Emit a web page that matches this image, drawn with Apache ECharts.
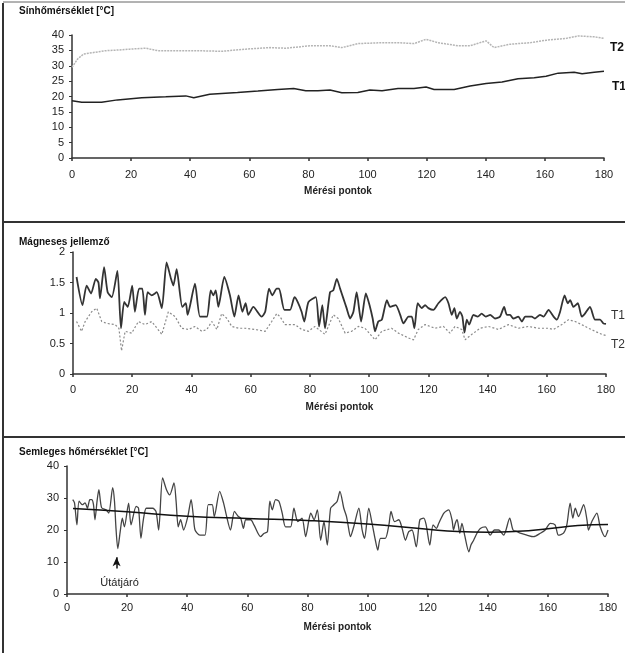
<!DOCTYPE html>
<html>
<head>
<meta charset="utf-8">
<script src="https://cdn.jsdelivr.net/npm/echarts@6/dist/echarts.min.js"></script>
<style>
  html, body { margin: 0; padding: 0; background: #fff; }
  #chart { width: 625px; height: 653px; }
</style>
</head>
<body>
<div id="chart"></div>
<script>
// --- data ---
const xTicks = [0, 20, 40, 60, 80, 100, 120, 140, 160, 180];

// Sínhőmérséklet
const railT2x = [0, 1.9, 3.9, 7.3, 11.4, 15.4, 19.5, 25, 29, 35.8, 42.5, 50.7, 58.8, 67, 72.4, 80.5, 87.3, 91.3, 96.7, 104.9, 110.3, 115.7, 119.8, 123.8, 130.6, 134.7, 140.1, 142.8, 148.2, 155, 160.4, 167.2, 171.3, 176.7, 180];
const railT2 = [29.5, 32.2, 33.8, 34.3, 34.9, 35.1, 35.4, 35.7, 34.9, 34.9, 34.9, 34.7, 35.4, 35.9, 35.7, 36.5, 36.5, 35.9, 37.2, 37.5, 37.5, 37.2, 38.6, 37.5, 36.5, 36.5, 38.1, 35.9, 37, 37.5, 38.3, 38.9, 39.7, 39.4, 38.9];
const railT1x = [0, 3.3, 10, 15.4, 23.6, 31.7, 38.5, 41.2, 46.6, 56, 62.9, 69.6, 75, 79.1, 83.2, 87.3, 91.3, 96.7, 100.8, 104.9, 110.3, 115.7, 119.8, 122.5, 129.3, 134.7, 140.1, 145.5, 150.9, 156.4, 160.4, 164.5, 169.9, 172.6, 176.7, 180];
const railT1 = [18.6, 18.1, 18.1, 18.9, 19.6, 19.9, 20.2, 19.6, 20.7, 21.3, 21.8, 22.3, 22.6, 21.9, 21.9, 22.1, 21.2, 21.3, 22.1, 21.9, 22.6, 22.6, 23.1, 22.3, 22.3, 23.4, 24.2, 24.7, 25.8, 26.1, 26.6, 27.6, 27.9, 27.4, 27.9, 28.2];

// Mágneses jellemző
const magT1x = [1.2, 3.2, 4.6, 6.1, 7.7, 8.6, 9.1, 10.5, 11.7, 13.1, 15, 16.2, 17.3, 18.5, 20, 20.9, 22.3, 23.4, 24.3, 25.2, 26.6, 28.3, 30, 31.6, 33.1, 33.9, 35, 36.9, 38.1, 38.7, 41.2, 42.9, 45.2, 46.5, 47.4, 48.2, 49.1, 51.1, 53, 54.5, 55.9, 57.2, 58.3, 59.2, 60.9, 63.7, 64.9, 66.2, 67.3, 68.8, 69.6, 71.4, 73.3, 74.8, 75.9, 77.2, 78.1, 79.5, 82, 83.1, 84.2, 85.1, 86.8, 87.9, 89.1, 90.2, 91.3, 92.4, 93.6, 94.7, 95.8, 97.3, 98.9, 100.3, 101.2, 102, 103.1, 104.3, 106, 107.1, 109, 110.5, 111.6, 113.3, 114.4, 115.3, 116.4, 117.8, 118.9, 120, 121.7, 123.4, 125.7, 126.8, 127.9, 128.8, 129.6, 130.7, 131.5, 132.2, 133, 133.8, 135.2, 136.7, 138, 139.4, 140.9, 142.5, 144.2, 145.6, 146.5, 147.6, 148.7, 150.4, 151.6, 152.7, 154.9, 156, 157.7, 158.9, 160.6, 162.3, 163.4, 164.5, 166, 167.1, 167.9, 169, 170.5, 171.8, 172.9, 174.6, 176.3, 178, 179.1, 180];
const magT1 = [1.59, 1.13, 1.45, 1.32, 1.56, 1.5, 1.24, 1.75, 1.34, 1.26, 1.69, 0.75, 1.18, 1.1, 1.45, 1.02, 1.4, 1.4, 0.97, 1.34, 1.29, 1.34, 1.08, 1.83, 1.56, 1.45, 1.72, 1.1, 1.16, 0.97, 1.48, 0.94, 0.94, 1.37, 1.29, 1.37, 1.1, 1.59, 1.29, 0.94, 1.29, 1.02, 1.16, 0.97, 1.1, 0.94, 1.02, 1.4, 1.29, 1.4, 1.4, 1.05, 1.05, 1.26, 1.18, 1.02, 0.86, 1.18, 1.26, 0.78, 1.13, 0.75, 1.34, 1.37, 1.56, 1.4, 1.24, 1.08, 0.91, 1.02, 1.34, 0.86, 1.32, 1.1, 0.91, 0.7, 0.86, 0.89, 1.21, 1.1, 1.13, 0.97, 0.83, 0.94, 0.94, 0.75, 1.16, 1.08, 1.13, 1.08, 1.05, 1.16, 1.26, 1.16, 0.97, 1.08, 0.91, 1.02, 0.94, 0.68, 0.89, 0.81, 0.97, 0.94, 0.99, 0.94, 0.97, 0.91, 0.94, 1.1, 0.97, 0.97, 0.91, 0.94, 0.86, 0.94, 0.94, 0.91, 0.97, 0.94, 1.05, 0.94, 0.89, 1.02, 1.29, 1.16, 1.21, 1.1, 1.16, 0.94, 0.99, 1.1, 0.89, 0.89, 0.83, 0.82];
const magT2x = [1.2, 2.9, 4.1, 6.3, 8, 9.7, 11.4, 14.2, 15.5, 16.4, 17.6, 19.8, 22.1, 24.3, 26.6, 30, 32.2, 34.5, 36.7, 39, 41.2, 43.5, 45.2, 46.9, 48.6, 50.2, 52, 53.6, 55.9, 58.1, 61.5, 64.9, 67.1, 68.8, 69.9, 71.6, 75, 77.2, 79.5, 81.7, 85.1, 87.9, 89.6, 91.9, 94.1, 96.4, 98.6, 102, 104.3, 107.6, 109.9, 113.3, 115, 116.6, 118.9, 122.3, 125.1, 127.3, 129, 131.3, 132.4, 134.7, 137.5, 140.3, 143.7, 147, 150.4, 153.8, 157.2, 160.6, 162.3, 165.1, 167.3, 169.6, 171.8, 174.1, 176.3, 178.6, 180];
const magT2 = [0.86, 0.7, 0.86, 1.02, 1.08, 0.86, 0.83, 0.81, 0.75, 0.38, 0.7, 0.67, 0.86, 0.81, 0.86, 0.65, 1.02, 0.94, 0.75, 0.73, 0.78, 0.7, 0.73, 0.86, 0.73, 0.99, 0.91, 0.78, 0.75, 0.75, 0.73, 0.7, 0.86, 0.99, 0.94, 0.81, 0.81, 0.73, 0.7, 0.78, 0.65, 0.97, 0.91, 0.67, 0.7, 0.78, 0.75, 0.56, 0.7, 0.75, 0.67, 0.59, 0.56, 0.73, 0.81, 0.75, 0.78, 0.67, 0.78, 0.73, 0.56, 0.65, 0.75, 0.78, 0.73, 0.81, 0.75, 0.78, 0.75, 0.75, 0.73, 0.81, 0.89, 0.86, 0.81, 0.75, 0.7, 0.65, 0.63];

// Semleges hőmérséklet
const neutX = [1.9, 2.5, 3.3, 4, 5.1, 6, 6.8, 7.6, 8.2, 8.8, 9.3, 10, 10.6, 11.5, 13, 13.9, 15.2, 15.8, 16.3, 16.9, 17.7, 18.4, 19.1, 20.5, 21.3, 23, 23.8, 24.6, 25.4, 26.4, 28.5, 29.6, 30.5, 31.8, 33.1, 34.2, 35.6, 36.3, 37, 37.8, 38.8, 40.2, 41.3, 42, 42.6, 44.2, 45.9, 47, 48.3, 49, 50.8, 52.1, 53, 54.4, 55.7, 57, 57.8, 58.7, 59.5, 61.1, 62.2, 64.4, 65.5, 66.7, 67.5, 68.3, 69.4, 70.5, 71.6, 72.7, 74.4, 75.5, 76.8, 78.2, 79.4, 80.5, 81.1, 82.2, 83.3, 84.4, 85.5, 86.6, 87.7, 88.8, 89.9, 90.8, 92.1, 93, 93.5, 94.3, 95.4, 97.1, 98.2, 99, 100.4, 101.5, 102.6, 103.4, 104.3, 105.9, 107.1, 107.8, 109, 110.4, 111.5, 112.6, 113.7, 114.8, 116.2, 117.4, 118.7, 119.5, 120.7, 121.8, 122.9, 123.7, 125.4, 127, 128.1, 128.6, 129.2, 129.8, 130.7, 131.4, 132.3, 133.7, 134.4, 135.3, 136.4, 137.5, 139.2, 140.8, 142.2, 143.6, 145.3, 147.3, 148.4, 149.7, 150.8, 153, 155.2, 157.5, 159.1, 160.8, 162.4, 163.5, 165.2, 166.3, 167.4, 168.3, 169.1, 170.2, 171.9, 173, 173.5, 174.6, 176.3, 177.4, 179, 180];
const neutT = [29.5, 28.5, 21.6, 29, 27.9, 28.5, 26.8, 29.5, 29.5, 28, 23.2, 29, 32.6, 27, 26.3, 25.3, 33.2, 29, 20.5, 14.2, 19.5, 23.7, 21, 28.4, 21.6, 27.4, 26.8, 17.4, 23.2, 26.8, 26.8, 25.8, 20, 36.3, 32.6, 31, 34.7, 29, 21, 23.2, 20, 24.2, 29.5, 24.7, 20, 18.4, 18.4, 27.9, 27.9, 24.2, 32.1, 28.4, 24.7, 20, 25.8, 24.2, 23.7, 20.5, 23.2, 23.2, 21.6, 17.9, 18.9, 19.5, 29, 26.3, 29.5, 29, 25.3, 21, 21, 26.8, 22.6, 23.7, 17.9, 23.2, 25.3, 23.2, 26.3, 16.8, 22.6, 15.3, 26.8, 27.9, 29, 32.1, 26.8, 24.2, 21.6, 17.9, 21, 26.8, 20, 17.4, 26.8, 22.1, 16.8, 13.7, 17.4, 17.4, 21.6, 25.8, 22.6, 23.2, 20.5, 16.8, 19.5, 20, 14.7, 23.2, 23.7, 21.6, 15.3, 21.6, 20.5, 22.1, 25.3, 26.3, 23.2, 20, 22.1, 23.2, 19, 22.1, 18.4, 13.2, 15.3, 16.8, 19, 20.5, 21, 18.4, 20, 20, 18.4, 23.7, 20, 19.5, 19, 18.4, 17.9, 19, 20, 22.1, 21.6, 18.4, 19, 21.6, 28.4, 23.7, 26.8, 24.2, 27.9, 23.2, 20, 22.6, 25.3, 21, 17.9, 20];
const trendX = [2, 20, 40, 60, 80, 100, 120, 130, 140, 150, 160, 170, 180];
const trendT = [26.7, 25.7, 24.3, 23.6, 23, 21.9, 20.2, 19.5, 19.3, 19.6, 20.4, 21.4, 21.7];

const zip = (xs, ys) => xs.map((x, i) => [x, ys[i]]);

const FONT = '"Liberation Sans", Arial, sans-serif';
const chart = echarts.init(document.getElementById('chart'), null, {renderer: 'canvas'});

function xAxisCfg(gridIndex, labelMargin) {
  return {
    gridIndex, type: 'value', min: 0, max: 180, interval: 20,
    name: 'Mérési pontok', nameLocation: 'middle', nameGap: 28,
    nameTextStyle: {fontFamily: FONT, fontSize: 10, fontWeight: 'bold', color: '#222'},
    axisLine: {lineStyle: {color: '#333', width: 1.5}},
    axisTick: {length: 3, lineStyle: {color: '#333', width: 1.5}},
    axisLabel: {margin: labelMargin, fontFamily: FONT, fontSize: 11, color: '#222',
      formatter: v => xTicks.includes(v) ? String(v) : ''},
    splitLine: {show: false}
  };
}

function yAxisCfg(gridIndex, max, interval) {
  return {
    gridIndex, type: 'value', min: 0, max, interval,
    axisLine: {show: true, lineStyle: {color: '#333', width: 1.5}},
    axisTick: {show: true, length: 3, lineStyle: {color: '#333'}},
    axisLabel: {margin: 8, fontFamily: FONT, fontSize: 11, color: '#222'},
    splitLine: {show: false}
  };
}

const titleStyle = {fontFamily: FONT, fontSize: 10, fontWeight: 'bold', color: '#111'};

chart.setOption({
  animation: false,
  backgroundColor: '#fff',
  title: [
    {text: 'Sínhőmérséklet [°C]', left: 14, top: 1, textStyle: titleStyle},
    {text: 'Mágneses jellemző', left: 14, top: 232, textStyle: titleStyle},
    {text: 'Semleges hőmérséklet [°C]', left: 14, top: 442, textStyle: titleStyle}
  ],
  grid: [
    {left: 72, right: 21, top: 35, height: 123},
    {left: 73, right: 19, top: 252, height: 122},
    {left: 67, right: 17, top: 466, height: 128}
  ],
  xAxis: [xAxisCfg(0, 11), xAxisCfg(1, 10), xAxisCfg(2, 8)],
  yAxis: [yAxisCfg(0, 40, 5), yAxisCfg(1, 2, 0.5), yAxisCfg(2, 40, 10)],
  graphic: [
    {type: 'line', shape: {x1: 3, y1: 3, x2: 3, y2: 653}, style: {stroke: '#333', lineWidth: 2}},
    {type: 'line', shape: {x1: 3, y1: 2, x2: 625, y2: 2}, style: {stroke: '#666', lineWidth: 1}},
    {type: 'line', shape: {x1: 3, y1: 222, x2: 625, y2: 222}, style: {stroke: '#333', lineWidth: 2}},
    {type: 'line', shape: {x1: 3, y1: 437, x2: 625, y2: 437}, style: {stroke: '#333', lineWidth: 2}}
  ],
  series: [
    {
      name: 'T2', type: 'line', xAxisIndex: 0, yAxisIndex: 0, showSymbol: false,
      data: zip(railT2x, railT2),
      lineStyle: {color: '#b5b5b5', width: 1.5, type: [2, 1]},
      endLabel: {show: true, formatter: 'T2', offset: [-2, 9],
        fontFamily: FONT, fontSize: 12, fontWeight: 'bold', color: '#111'}
    },
    {
      name: 'T1', type: 'line', xAxisIndex: 0, yAxisIndex: 0, showSymbol: false,
      data: zip(railT1x, railT1),
      lineStyle: {color: '#222', width: 1.5},
      endLabel: {show: true, formatter: 'T1', offset: [0, 15],
        fontFamily: FONT, fontSize: 12, fontWeight: 'bold', color: '#111'}
    },
    {
      name: 'T2m', type: 'line', xAxisIndex: 1, yAxisIndex: 1, showSymbol: false,
      data: zip(magT2x, magT2),
      lineStyle: {color: '#8a8a8a', width: 1.2, type: [2, 2]},
      endLabel: {show: true, formatter: 'T2', offset: [-3, 9],
        fontFamily: FONT, fontSize: 12, color: '#333'}
    },
    {
      name: 'T1m', type: 'line', xAxisIndex: 1, yAxisIndex: 1, showSymbol: false, smooth: 0.2,
      data: zip(magT1x, magT1),
      lineStyle: {color: '#333', width: 1.8},
      endLabel: {show: true, formatter: 'T1', offset: [-3, -8],
        fontFamily: FONT, fontSize: 12, color: '#333'}
    },
    {
      name: 'neutral', type: 'line', xAxisIndex: 2, yAxisIndex: 2, showSymbol: false, smooth: 0.25,
      data: zip(neutX, neutT),
      lineStyle: {color: '#444', width: 1.3},
      markLine: {
        silent: true, symbol: ['none', 'arrow'], symbolSize: [6, 9],
        lineStyle: {color: '#111', width: 1.5, type: 'solid'},
        label: {show: false},
        data: [[{coord: [16.5, 8]}, {coord: [16.5, 11.5]}]]
      },
      markPoint: {
        symbol: 'rect', symbolSize: 1, itemStyle: {color: 'transparent'},
        label: {show: true, formatter: 'Útátjáró', fontFamily: FONT, fontSize: 11, color: '#222'},
        data: [{coord: [17.5, 3.6]}]
      }
    },
    {
      name: 'trend', type: 'line', xAxisIndex: 2, yAxisIndex: 2, showSymbol: false, smooth: true,
      data: zip(trendX, trendT),
      lineStyle: {color: '#111', width: 1.5}
    }
  ]
});
</script>
</body>
</html>
